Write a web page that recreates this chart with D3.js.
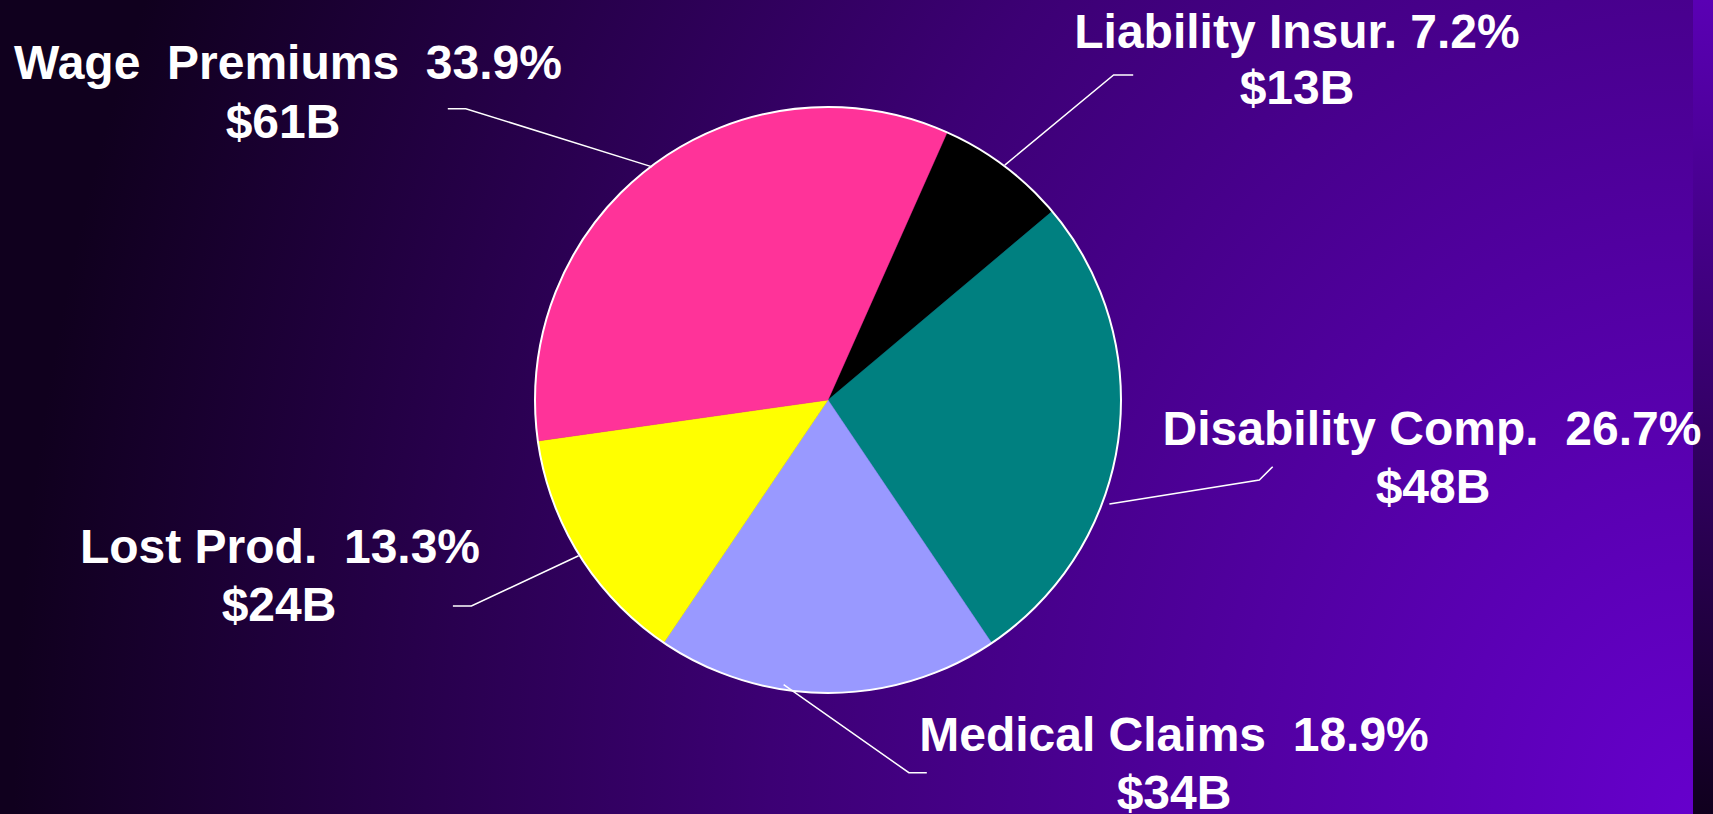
<!DOCTYPE html>
<html lang="en">
<head>
<title>Cost breakdown pie</title>
<meta charset="utf-8">
<script src="https://d3js.org/d3.v7.min.js"></script>
<style type="text/css">
  body {
    margin: 0;
    overflow: hidden;
  }
  .label {
    font-family: 'Liberation Sans', Arial, sans-serif;
    font-weight: bold;
    font-size: 48px;
    fill: #fff;
    white-space: pre;
  }
</style>
</head>
<body>

<div id="chart"></div>

<script>

/* Data */
/* ==== */

var categories = ['Liability Insur.', 'Disability Comp.', 'Medical Claims', 'Lost Prod.', 'Wage  Premiums'];
var percents   = [7.2, 26.7, 18.9, 13.3, 33.9];
var dollars    = ['$13B', '$48B', '$34B', '$24B', '$61B'];
var pctLabels  = ['7.2%', '26.7%', '18.9%', '13.3%', '33.9%'];
var gaps       = [' ', '  ', '  ', '  ', '  '];   // spacing between name and percent as on the slide
var colours    = ['#000000', '#008080', '#9999FF', '#FFFF00', '#FF3399'];

// Label layout (leader elbows, text anchors) - not data
var labelLayout = [
  { angOff: 0,    r: 294, elbow: [1113.6, 75],  end: [1133.2, 75],  x: [1297, 1297], y: [47.7, 104] },
  { angOff: 12.3, r: 300, elbow: [1259.3, 480], end: [1272.7, 466.7], x: [1432, 1433], y: [444.6, 502.6] },
  { angOff: 8.8,  r: 288, elbow: [908.9, 772.7], end: [926.8, 772.7], x: [1174, 1174], y: [750.5, 808.5] },
  { angOff: 0,    r: 294, elbow: [471.4, 606],  end: [452.9, 606],  x: [280, 279],   y: [562.6, 620.5] },
  { angOff: 0,    r: 292, elbow: [465.8, 108.7], end: [447.8, 108.7], x: [288, 283],  y: [78.7, 137.6] }
];


/* Setup */
/* ===== */

var width = 1713,
    height = 814,
    slideWidth = 1693,
    cx = 828,
    cy = 400,
    radius = 293,
    startDeg = 24;

var svg = d3.select('#chart').append('svg')
    .attr('width', width)
    .attr('height', height);

var defs = svg.append('defs');

// Main slide background - shaded out from the bottom right corner
var bg = defs.append('radialGradient')
    .attr('id', 'bg')
    .attr('gradientUnits', 'userSpaceOnUse')
    .attr('cx', slideWidth).attr('cy', height)
    .attr('fx', slideWidth).attr('fy', height)
    .attr('r', 1680)
    .attr('gradientTransform', 'translate(' + slideWidth + ',' + height + ') scale(1,1.25) translate(' + (-slideWidth) + ',' + (-height) + ')');
bg.append('stop').attr('offset', 0).attr('stop-color', '#6600cc');
bg.append('stop').attr('offset', 0.55).attr('stop-color', '#3c0074');
bg.append('stop').attr('offset', 1).attr('stop-color', '#10001e');

// Thin strip at right edge
var strip = defs.append('linearGradient')
    .attr('id', 'strip')
    .attr('x1', 0).attr('y1', 0)
    .attr('x2', 0).attr('y2', 1);
strip.append('stop').attr('offset', 0).attr('stop-color', '#5a00b4');
strip.append('stop').attr('offset', 1).attr('stop-color', '#10001e');

svg.append('rect')
    .attr('width', width)
    .attr('height', height)
    .attr('fill', 'url(#strip)');

svg.append('rect')
    .attr('width', slideWidth)
    .attr('height', height)
    .attr('fill', 'url(#bg)');


/* Pie */
/* === */

var data = categories.map(function(c, i) {
  return { name: c, value: percents[i], colour: colours[i], i: i };
});

var toRad = Math.PI / 180;

var pie = d3.pie()
    .sort(null)
    .value(function(d) { return d.value; })
    .startAngle(startDeg * toRad)
    .endAngle(startDeg * toRad + 2 * Math.PI);

var arc = d3.arc()
    .innerRadius(0)
    .outerRadius(radius);

var arcs = pie(data);

var g = svg.append('g')
    .attr('transform', 'translate(' + cx + ',' + cy + ')');

g.selectAll('path.slice')
    .data(arcs)
  .enter().append('path')
    .attr('class', 'slice')
    .attr('d', arc)
    .attr('fill', function(d) { return d.data.colour; })
    .attr('stroke', function(d) { return d.data.colour; })
    .attr('stroke-width', 0.5);

// Outer rim
g.append('circle')
    .attr('r', radius)
    .attr('fill', 'none')
    .attr('stroke', '#fff')
    .attr('stroke-width', 2);


/* Leader lines and labels */
/* ======================= */

var line = d3.line();

arcs.forEach(function(a, i) {
  var lay = labelLayout[i];
  var mid = (a.startAngle + a.endAngle) / 2 + lay.angOff * toRad;
  var p0 = [cx + lay.r * Math.sin(mid), cy - lay.r * Math.cos(mid)];

  svg.append('path')
      .attr('d', line([p0, lay.elbow, lay.end]))
      .attr('fill', 'none')
      .attr('stroke', '#fff')
      .attr('stroke-width', 1.5);

  svg.append('text')
      .attr('class', 'label')
      .attr('x', lay.x[0])
      .attr('y', lay.y[0])
      .attr('text-anchor', 'middle')
      .text(categories[i] + gaps[i] + pctLabels[i]);

  svg.append('text')
      .attr('class', 'label')
      .attr('x', lay.x[1])
      .attr('y', lay.y[1])
      .attr('text-anchor', 'middle')
      .text(dollars[i]);
});

</script>
</body>
</html>
